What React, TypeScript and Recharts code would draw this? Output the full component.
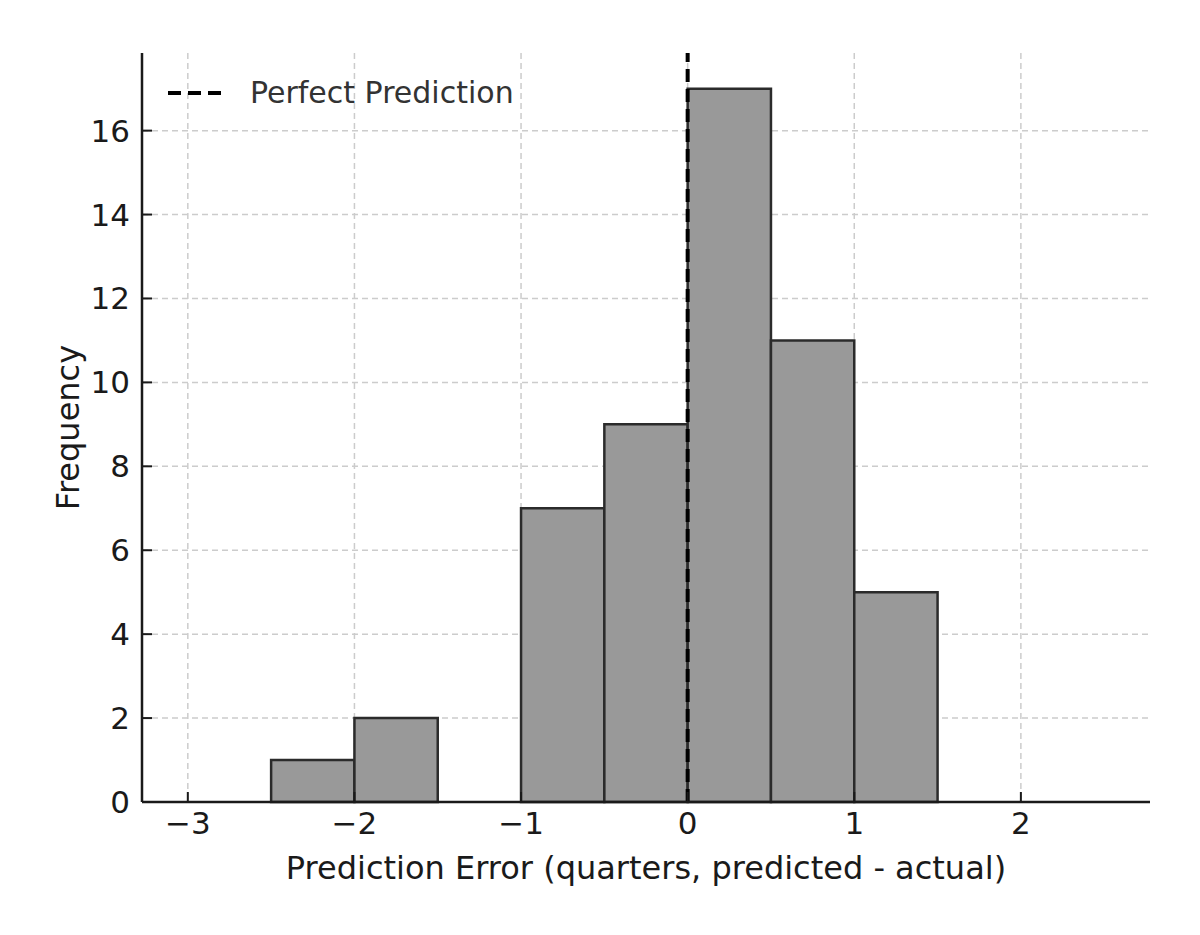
import { ComposedChart, XAxis, YAxis, CartesianGrid, ReferenceArea, ReferenceLine, Label } from 'recharts'

// histogram bins (left edge) and counts
const binStarts = [-2.5, -2, -1.5, -1, -0.5, 0, 0.5, 1]
const binWidth = 0.5
const counts = [1, 2, 0, 7, 9, 17, 11, 5]

const xTicks = [-3, -2, -1, 0, 1, 2]
const yTicks = [0, 2, 4, 6, 8, 10, 12, 14, 16]
const xDomain = [-3.275, 2.775]
const yDomain = [0, 17.85]

const FONT = '"DejaVu Sans", sans-serif'
const INK = '#1a1a1a'

const bins = binStarts.map((start, i) => ({ x: start + binWidth / 2, start, end: start + binWidth, count: counts[i] }))

const fmt = (v: number) => (v < 0 ? `\u2212${Math.abs(v)}` : `${v}`)

export default function App() {
  const tickStyle = { fontSize: 31, fill: INK, fontFamily: FONT }

  return (
    <div style={{ position: 'absolute', left: 0, top: 0, width: 1200, height: 935, background: '#fff' }}>
      <ComposedChart
        width={1200}
        height={935}
        data={bins}
        margin={{ top: 53, right: 50, left: 82, bottom: 53 }}
      >
        <CartesianGrid
          stroke="#cccccc"
          strokeWidth={1.5}
          strokeDasharray="6 4"
          horizontalValues={yTicks}
          verticalValues={xTicks}
        />
        <XAxis
          dataKey="x"
          type="number"
          domain={xDomain}
          ticks={xTicks}
          allowDataOverflow
          tickFormatter={fmt}
          height={80}
          tick={tickStyle}
          tickSize={-10}
          tickMargin={20}
          tickLine={{ stroke: INK, strokeWidth: 2 }}
          axisLine={{ stroke: INK, strokeWidth: 2.5 }}
        >
          <Label
            value="Prediction Error (quarters, predicted - actual)"
            position="insideBottom"
            offset={3}
            style={{ fontSize: 32, fill: INK, fontFamily: FONT }}
          />
        </XAxis>
        <YAxis
          type="number"
          domain={yDomain}
          ticks={yTicks}
          allowDataOverflow
          width={60}
          tick={tickStyle}
          tickSize={-10}
          tickMargin={22}
          tickLine={{ stroke: INK, strokeWidth: 2 }}
          axisLine={{ stroke: INK, strokeWidth: 2.5 }}
        >
          <Label
            value="Frequency"
            angle={-90}
            position="insideLeft"
            offset={-14}
            style={{ fontSize: 32, fill: INK, fontFamily: FONT, textAnchor: 'middle' }}
          />
        </YAxis>
        {bins.filter(b => b.count > 0).map(b => (
          <ReferenceArea
            key={b.start}
            x1={b.start}
            x2={b.end}
            y1={0}
            y2={b.count}
            fill="#999999"
            fillOpacity={1}
            stroke="#2b2b2b"
            strokeWidth={2.5}
            ifOverflow="visible"
          />
        ))}
        <ReferenceLine x={0} stroke="#000" strokeWidth={4} strokeDasharray="13 7" />
      </ComposedChart>
      <div
        style={{
          position: 'absolute', left: 166, top: 75, display: 'flex', alignItems: 'center',
          fontFamily: FONT, fontSize: 30, color: '#333',
        }}
      >
        <svg width={64} height={8} style={{ marginRight: 20 }}>
          <line x1={2} y1={4} x2={62} y2={4} stroke="#000" strokeWidth={4} strokeDasharray="13 7" />
        </svg>
        <span>Perfect Prediction</span>
      </div>
    </div>
  )
}
